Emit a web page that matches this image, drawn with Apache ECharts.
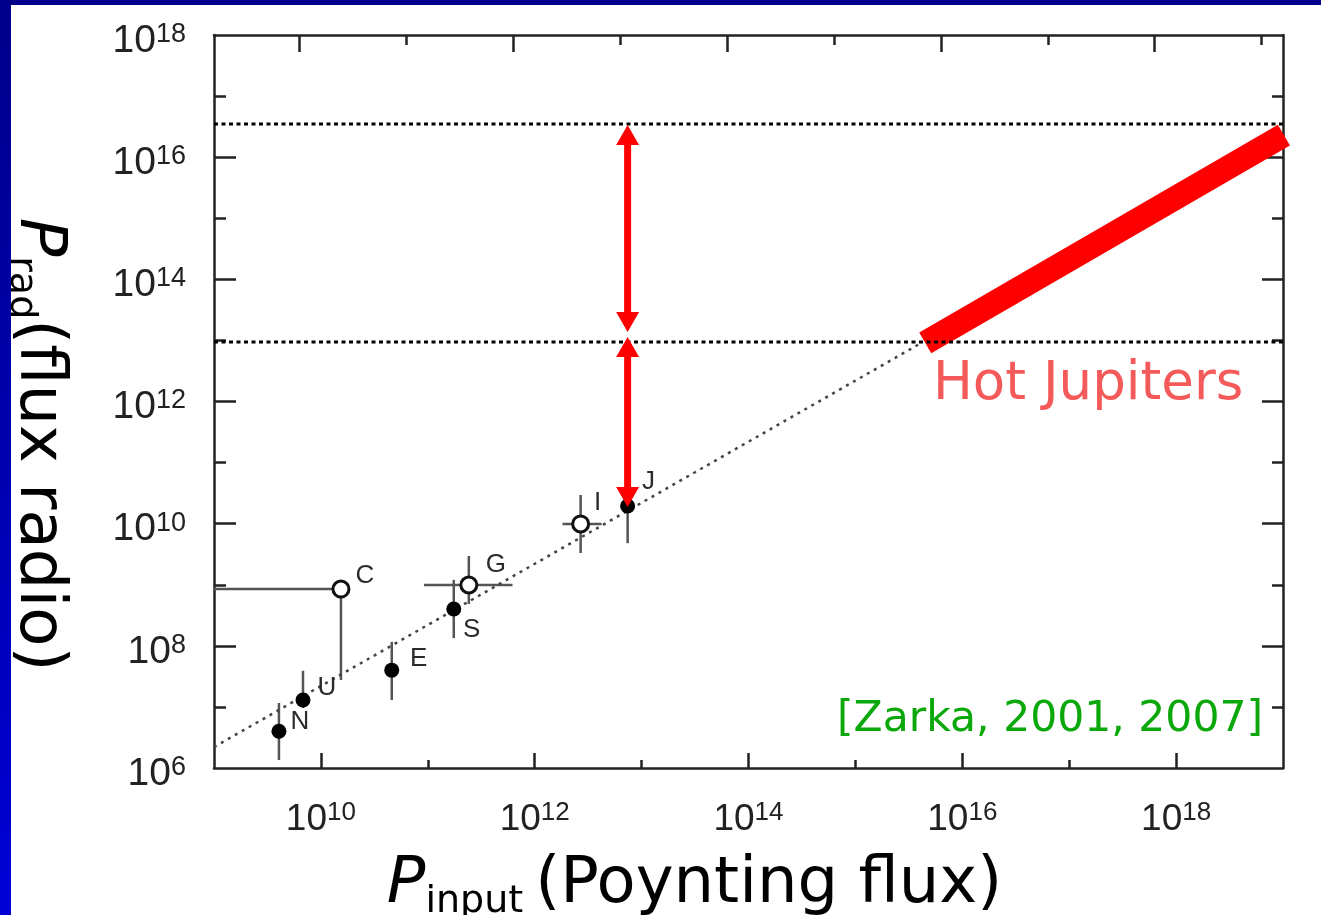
<!DOCTYPE html>
<html>
<head>
<meta charset="utf-8">
<script src="https://cdn.jsdelivr.net/npm/echarts@6/dist/echarts.min.js"></script>
<style>
html,body{margin:0;padding:0;background:#fff;}
#chart{width:1321px;height:915px;}
</style>
</head>
<body>
<div id="chart"></div>
<script>
// ---------- data ----------
const filledNames = ['N', 'U', 'E', 'S', 'J'];
const filledX = [4.05e9, 6.8e9, 4.6e10, 1.75e11, 7.4e12];
const filledY = [4.0e6, 1.3e7, 4.0e7, 4.0e8, 1.95e10];

const openNames = ['C', 'G', 'I'];
const openX = [1.54e10, 2.42e11, 2.69e12];
const openY = [8.5e8, 9.9e8, 9.9e9];

// vertical error bars
const vErrX = [4.05e9, 6.8e9, 4.6e10, 1.75e11, 7.4e12, 1.54e10, 2.42e11, 2.69e12];
const vErrLow = [1.35e6, 9.6e6, 1.3e7, 1.34e8, 4.8e9, 2.76e7, 4.84e8, 3.31e9];
const vErrHigh = [1.16e7, 3.9e7, 1.16e8, 1.2e9, 3.5e10, 8.5e8, 2.96e9, 2.95e10];

// horizontal error bars
const hErrY = [8.5e8, 9.9e8, 9.9e9];
const hErrLow = [1e9, 9.2e10, 1.82e12];
const hErrHigh = [1.54e10, 6.2e11, 4.23e12];

// dotted scaling law (slope 1 in log-log)
const fitX = [1e9, 4.14e15];
const fitY = [2.2e6, 9.1e12];

// Hot Jupiters band
const hjX = [4.5e15, 1.02e19];
const hjY = [9.1e12, 2.3e16];

// horizontal dotted limits
const limitY = [3.5e16, 9.4e12];
const limitX = [1e9, 1.14e19];

// red double arrows (tip to tip), at Jupiter's abscissa
const arrowX = 7.4e12;
const arrowFrom = [3.37e16, 1.14e13];
const arrowTo = [1.37e13, 1.88e10];

// axis ticks (decade exponents)
const xRange = [1e9, 1e19];
const yRange = [1e6, 1e18];
const xMajorExp = [10, 12, 14, 16, 18];
const xMinorExp = [11, 13, 15, 17];
const topMajorExp = [9.8, 11.8, 13.8, 15.8, 17.8];
const topMinorExp = [10.8, 12.8, 14.8, 16.8, 18.8];
const yLabelExp = [6, 8, 10, 12, 14, 16, 18];
const yMajorExp = [8, 10, 12, 14, 16];
const yMinorExp = [7, 9, 11, 13, 15, 17];

// ---------- styling helpers ----------
const labelOffset = {
  N: [21, -9], U: [24, -12], E: [27, -11], S: [18, 21], J: [21, -24],
  C: [24, -13], G: [27, -20], I: [17, -21]
};
const pw = e => Math.pow(10, e);
// tiny inward nudge so that end values survive float comparisons with the axis extent
const lab = (e, lo, hi) => pw(e === lo ? e + 1e-9 : e === hi ? e - 1e-9 : e);
const AX = '#222';
function tickRich(b, s) {
  return {
    b: { fontSize: b, lineHeight: 40, fontFamily: 'Liberation Sans, Arial', color: '#222' },
    sup: { fontSize: s, lineHeight: 18, verticalAlign: 'top', fontFamily: 'Liberation Sans, Arial', color: '#222' }
  };
}
const tickFmt = v => '{b|10}{sup|' + Math.round(Math.log10(v)) + '}';

function axisBase(extra) {
  return Object.assign({
    type: 'log', logBase: 10, gridIndex: 0,
    splitLine: { show: false },
    axisLine: { show: false },
    axisLabel: { show: false },
    axisTick: { show: false }
  }, extra);
}
function ticks(exps, len) {
  return { show: true, inside: true, length: len, customValues: exps.map(pw),
           lineStyle: { color: AX, width: 2.5 } };
}
const lineAx = { show: true, onZero: false, lineStyle: { color: AX, width: 2.5 } };

const titleRich = {
  p: { fontSize: 64, lineHeight: 72, fontStyle: 'italic', fontFamily: 'DejaVu Sans', color: '#000' },
  s: { fontSize: 38, lineHeight: 49, verticalAlign: 'bottom', fontFamily: 'DejaVu Sans', color: '#000' },
  t: { fontSize: 64, lineHeight: 72, fontFamily: 'DejaVu Sans', color: '#000' }
};

const xAxes = [
  axisBase({ position: 'bottom', min: xRange[0], max: xRange[1], axisLine: lineAx, axisTick: ticks(xMinorExp, 8) }),
  axisBase({ position: 'bottom', min: xRange[0], max: xRange[1], axisTick: ticks(xMajorExp, 15),
    axisLabel: { show: true, customValues: xMajorExp.map(e => lab(e, 9, 19)), margin: 32, formatter: tickFmt, rich: tickRich(37, 26) },
    name: '{p|P}{s|input }{t|(Poynting flux)}', nameLocation: 'middle', nameGap: 81,
    nameTextStyle: { rich: titleRich, padding: [0, 108, 0, 0] } }),
  axisBase({ position: 'top', min: xRange[0], max: xRange[1], axisLine: lineAx, axisTick: ticks(topMinorExp, 10) }),
  axisBase({ position: 'top', min: xRange[0], max: xRange[1], axisTick: ticks(topMajorExp, 17) })
];
const yAxes = [
  axisBase({ position: 'left', min: yRange[0], max: yRange[1], axisLine: lineAx, axisTick: ticks(yMinorExp, 12) }),
  axisBase({ position: 'left', min: yRange[0], max: yRange[1], axisTick: ticks(yMajorExp, 22),
    axisLabel: { show: true, customValues: yLabelExp.map(e => lab(e, 6, 18)), margin: 28, formatter: tickFmt, rich: tickRich(39, 27), padding: [12, 0, 0, 0] },
    name: '{p|P}{s|rad}{t|(flux radio)}', nameLocation: 'middle', nameGap: 140, nameRotate: -90,
    nameTextStyle: { rich: titleRich, padding: [0, 0, 0, 86] } }),
  axisBase({ position: 'right', min: yRange[0], max: yRange[1], axisLine: lineAx, axisTick: ticks(yMinorExp, 11) }),
  axisBase({ position: 'right', min: yRange[0], max: yRange[1], axisTick: ticks(yMajorExp, 21) })
];

function pointLabel(name) {
  return { show: true, position: 'inside', offset: labelOffset[name], formatter: '{b}',
           fontSize: 26, fontFamily: 'Liberation Sans, Arial', color: '#2b2b2b' };
}

const vErrData = vErrX.map((x, i) => [x, vErrLow[i], vErrHigh[i]]);
const hErrData = hErrY.map((y, i) => [hErrLow[i], y, hErrHigh[i]]);
const arrowData = arrowFrom.map((y, i) => [arrowX, y, arrowTo[i]]);

function renderVErr(params, api) {
  const a = api.coord([api.value(0), api.value(1)]);
  const b = api.coord([api.value(0), api.value(2)]);
  return { type: 'line', shape: { x1: a[0], y1: a[1], x2: b[0], y2: b[1] },
           style: { stroke: '#555', lineWidth: 2.5 } };
}
function renderHErr(params, api) {
  const a = api.coord([api.value(0), api.value(1)]);
  const b = api.coord([api.value(2), api.value(1)]);
  return { type: 'line', shape: { x1: a[0], y1: a[1], x2: b[0], y2: b[1] },
           style: { stroke: '#555', lineWidth: 2.5 } };
}
function renderArrow(params, api) {
  const p1 = api.coord([api.value(0), api.value(1)]);
  const p2 = api.coord([api.value(0), api.value(2)]);
  const dx = p2[0] - p1[0], dy = p2[1] - p1[1];
  const len = Math.sqrt(dx * dx + dy * dy);
  const ux = dx / len, uy = dy / len, nx = -uy, ny = ux;
  const L = 20, W = 23;
  const b1 = [p1[0] + ux * L, p1[1] + uy * L];
  const b2 = [p2[0] - ux * L, p2[1] - uy * L];
  const col = '#ff0000';
  return { type: 'group', children: [
    { type: 'line', shape: { x1: b1[0] - ux, y1: b1[1] - uy, x2: b2[0] + ux, y2: b2[1] + uy },
      style: { stroke: col, lineWidth: 7 } },
    { type: 'polygon', shape: { points: [p1, [b1[0] + nx * W / 2, b1[1] + ny * W / 2], [b1[0] - nx * W / 2, b1[1] - ny * W / 2]] },
      style: { fill: col } },
    { type: 'polygon', shape: { points: [p2, [b2[0] + nx * W / 2, b2[1] + ny * W / 2], [b2[0] - nx * W / 2, b2[1] - ny * W / 2]] },
      style: { fill: col } }
  ] };
}

const series = [
  { type: 'custom', name: 'vErr', renderItem: renderVErr, data: vErrData, z: 2, silent: true },
  { type: 'custom', name: 'hErr', renderItem: renderHErr, data: hErrData, z: 2, silent: true },
  { type: 'line', name: 'fit', data: fitX.map((x, i) => [x, fitY[i]]), showSymbol: false, symbol: 'none',
    lineStyle: { color: '#444', width: 2.5, type: [3, 5] }, z: 2, silent: true, clip: false },
  { type: 'scatter', name: 'filled', symbol: 'circle', symbolSize: 15,
    itemStyle: { color: '#000', opacity: 1 },
    data: filledNames.map((n, i) => ({ name: n, value: [filledX[i], filledY[i]], label: pointLabel(n) })), z: 3, silent: true },
  { type: 'scatter', name: 'open', symbol: 'circle', symbolSize: 16,
    itemStyle: { color: '#fff', borderColor: '#111', borderWidth: 3, opacity: 1 },
    data: openNames.map((n, i) => ({ name: n, value: [openX[i], openY[i]], label: pointLabel(n) })), z: 3, silent: true },
  { type: 'line', name: 'hotJupiters', data: hjX.map((x, i) => [x, hjY[i]]), showSymbol: false, symbol: 'none',
    lineStyle: { color: '#ff0000', width: 24, cap: 'butt' }, z: 4, silent: true, clip: false },
  ...limitY.map(y => ({ type: 'line', name: 'limit', data: limitX.map(x => [x, y]), showSymbol: false, symbol: 'none',
    lineStyle: { color: '#000', width: 3, type: [4, 3.5] }, z: 5, silent: true, clip: false })),
  { type: 'custom', name: 'arrows', renderItem: renderArrow, data: arrowData, z: 6, silent: true }
];

const chart = echarts.init(document.getElementById('chart'), null, { renderer: 'canvas' });
chart.setOption({
  animation: false,
  backgroundColor: '#fff',
  grid: { left: 214, top: 35, width: 1069, height: 733, containLabel: false, outerBoundsMode: 'none' },
  xAxis: xAxes,
  yAxis: yAxes,
  series: series,
  graphic: [
    { type: 'rect', shape: { x: 0, y: 0, width: 1321, height: 5 }, style: { fill: '#00008a' }, z: 100 },
    { type: 'rect', shape: { x: 0, y: 0, width: 11, height: 915 },
      style: { fill: new echarts.graphic.LinearGradient(0, 0, 0, 1, [
        { offset: 0, color: '#00008a' }, { offset: 1, color: '#0000d6' }]) }, z: 100 },
    { type: 'text', x: 933, y: 385, z: 50,
      style: { text: 'Hot Jupiters', fontSize: 53, fontFamily: 'DejaVu Sans', fill: '#f55a5a', align: 'left', verticalAlign: 'middle' } },
    { type: 'text', x: 837, y: 720, z: 50,
      style: { text: '[Zarka, 2001, 2007]', fontSize: 42.5, fontFamily: 'DejaVu Sans', fill: '#0aa80a', align: 'left', verticalAlign: 'middle' } }
  ]
});
</script>
</body>
</html>
